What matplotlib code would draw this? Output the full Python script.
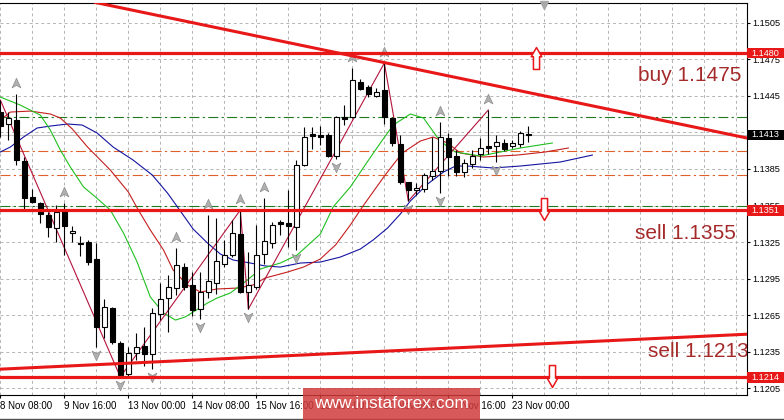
import matplotlib
matplotlib.use("Agg")
import matplotlib.pyplot as plt
from matplotlib.path import Path
from matplotlib.patches import Rectangle
from matplotlib.lines import Line2D
from matplotlib.transforms import offset_copy, blended_transform_factory
from matplotlib.ticker import FixedLocator, MultipleLocator

plt.rcParams['font.family'] = ['Liberation Sans', 'DejaVu Sans']

# EURUSD H4 candles, 8 Nov 08:00 .. 23 Nov 00:00
opens = [1.14318, 1.14218, 1.14251, 1.13915, 1.13620, 1.13571, 1.13472, 1.13365, 1.13513, 1.13324,
         1.13242, 1.13251, 1.13111, 1.12553, 1.12709, 1.12421, 1.12167, 1.12339, 1.12397, 1.12331,
         1.12659, 1.12791, 1.12873, 1.13046, 1.12898, 1.12700, 1.12840, 1.12914, 1.13070, 1.13144,
         1.13316, 1.12840, 1.12882, 1.13152, 1.13242, 1.13415, 1.13406, 1.13374, 1.13882, 1.14136,
         1.14128, 1.14128, 1.13956, 1.14276, 1.14276, 1.14564, 1.14523, 1.14449, 1.14498, 1.14267,
         1.14054, 1.13743, 1.13677, 1.13685, 1.13792, 1.13833, 1.14104, 1.13956, 1.13825, 1.13890,
         1.13972, 1.14038, 1.14038, 1.14063, 1.14038, 1.14054, 1.14136]
highs = [1.14416, 1.14318, 1.14465, 1.13948, 1.13685, 1.13579, 1.13497, 1.13554, 1.13571, 1.13382,
         1.13300, 1.13267, 1.13242, 1.12783, 1.12717, 1.12438, 1.12389, 1.12503, 1.12553, 1.12709,
         1.12914, 1.12980, 1.13201, 1.13078, 1.13005, 1.13005, 1.13472, 1.13447, 1.13267, 1.13431,
         1.13513, 1.13169, 1.13390, 1.13611, 1.13415, 1.13431, 1.13677, 1.13923, 1.14194, 1.14194,
         1.14202, 1.14144, 1.14285, 1.14375, 1.14678, 1.14588, 1.14539, 1.14514, 1.14719, 1.14267,
         1.14128, 1.13743, 1.13734, 1.13816, 1.14112, 1.14235, 1.14144, 1.14005, 1.13931, 1.14005,
         1.14104, 1.14334, 1.14128, 1.14095, 1.14087, 1.14161, 1.14202]
lows = [1.14112, 1.14087, 1.13882, 1.13521, 1.13571, 1.13406, 1.13292, 1.13251, 1.13144, 1.13251,
        1.13136, 1.13062, 1.12389, 1.12462, 1.12413, 1.12143, 1.12143, 1.12282, 1.12233, 1.12208,
        1.12610, 1.12512, 1.12816, 1.12857, 1.12643, 1.12618, 1.12791, 1.12824, 1.13046, 1.13128,
        1.12832, 1.12700, 1.12865, 1.13070, 1.13201, 1.13308, 1.13210, 1.13185, 1.13874, 1.14013,
        1.14046, 1.13948, 1.13931, 1.14210, 1.14267, 1.14498, 1.14440, 1.14440, 1.14218, 1.14038,
        1.13726, 1.13587, 1.13636, 1.13661, 1.13759, 1.13653, 1.13792, 1.13792, 1.13784, 1.13858,
        1.13923, 1.13972, 1.13907, 1.13997, 1.14021, 1.14030, 1.14071]
closes = [1.14202, 1.14267, 1.13923, 1.13611, 1.13579, 1.13480, 1.13374, 1.13497, 1.13382, 1.13341,
          1.13234, 1.13087, 1.12553, 1.12717, 1.12430, 1.12159, 1.12339, 1.12389, 1.12331, 1.12667,
          1.12783, 1.12882, 1.13062, 1.12882, 1.12692, 1.12840, 1.12931, 1.13095, 1.13144, 1.13324,
          1.12840, 1.12898, 1.13144, 1.13259, 1.13390, 1.13398, 1.13382, 1.13882, 1.14112, 1.14120,
          1.14112, 1.13956, 1.14276, 1.14259, 1.14580, 1.14506, 1.14465, 1.14481, 1.14276, 1.14063,
          1.13743, 1.13677, 1.13694, 1.13800, 1.13833, 1.14112, 1.13948, 1.13825, 1.13898, 1.13956,
          1.14021, 1.14021, 1.14071, 1.14013, 1.14063, 1.14144, 1.14130]

date_idx = [0, 8, 16, 24, 32, 40, 48, 56, 64]
date_labels = ["8 Nov 08:00", "9 Nov 16:00", "13 Nov 00:00", "14 Nov 08:00", "15 Nov 16:00",
               "19 Nov 00:00", "20 Nov 08:00", "21 Nov 16:00", "23 Nov 00:00"]
price_ticks = [1.1205, 1.1235, 1.1265, 1.1295, 1.1325, 1.1355, 1.1385, 1.1415, 1.1445, 1.1475, 1.1505]

# Alligator (shifted lines run past the last bar)
jaw_x = [0, 1.25, 2.9, 4.6, 6.25, 8.4, 10.25, 12.1, 14.1, 16.6, 19, 20.9, 22.5, 24.1, 25.9, 27.5,
         29.1, 31.25, 33.1, 35, 37.5, 40, 42.5, 45, 46.6, 48.4, 50, 51.25, 53.4, 55.4, 56.9, 58.4,
         61.6, 65, 70, 74]
jaw_y = [1.13989, 1.14030, 1.14112, 1.14186, 1.14202, 1.14219, 1.14210, 1.14145, 1.14030, 1.13923,
         1.13800, 1.13652, 1.13505, 1.13357, 1.13242, 1.13152, 1.13103, 1.13078, 1.13054, 1.13045,
         1.13078, 1.13086, 1.13127, 1.13193, 1.13267, 1.13365, 1.13480, 1.13587, 1.13726, 1.13825,
         1.13874, 1.13874, 1.13858, 1.13874, 1.13907, 1.13964]
teeth_x = [0, 1.25, 3.75, 6.25, 7.5, 9, 10.9, 13.75, 16, 17.25, 18.75, 20.4, 21.6, 23.4, 25, 27.1,
           29.75, 31.6, 33.1, 35.9, 37.9, 40, 41.9, 43.75, 45.25, 48.1, 50.25, 52.5, 54.1, 55.9,
           57.5, 60.4, 64.6, 68.1, 71]
teeth_y = [1.14251, 1.14317, 1.14325, 1.14301, 1.14268, 1.14178, 1.14030, 1.13841, 1.13661, 1.13513,
           1.13349, 1.13185, 1.13021, 1.12898, 1.12840, 1.12865, 1.12873, 1.12898, 1.12955, 1.13004,
           1.13045, 1.13111, 1.13226, 1.13390, 1.13538, 1.13800, 1.13981, 1.14079, 1.14112, 1.14063,
           1.13981, 1.13948, 1.13964, 1.13989, 1.14022]
lips_x = [0, 2.5, 5, 6.25, 7.5, 8.75, 10.4, 11.9, 13.75, 15.4, 17.1, 18.75, 20.4, 21.9, 23.1, 24.1,
          25.9, 27.1, 28.75, 30.9, 32.5, 35, 37.1, 40, 41.6, 43.75, 45.6, 47.5, 49.1, 51.25, 52.9,
          54.6, 55.9, 56.9, 60, 62.5, 65, 69]
lips_y = [1.14440, 1.14374, 1.14292, 1.14169, 1.14005, 1.13866, 1.13702, 1.13620, 1.13513, 1.13324,
          1.13086, 1.12799, 1.12668, 1.12610, 1.12635, 1.12676, 1.12750, 1.12791, 1.12832, 1.12939,
          1.13029, 1.13078, 1.13144, 1.13316, 1.13538, 1.13702, 1.13882, 1.14063, 1.14210, 1.14301,
          1.14268, 1.14112, 1.14030, 1.13989, 1.13956, 1.13989, 1.14022, 1.14063]

zigzag_idx = [0, 15, 30, 31, 48, 51, 61]
zigzag_kind = ['H', 'L', 'H', 'L', 'H', 'L', 'H']
fractal_up = [2, 8, 22, 26, 30, 33, 44, 48, 55, 61]
fractal_dn = [12, 15, 19, 25, 31, 37, 42, 51, 55, 62]

levels = [1.1480, 1.1351, 1.1214]
green_dash = [1.1428, 1.1355]
orange_dash = [1.1400, 1.1380]
bid = 1.1413
trend_down = ([48, 93.4], [1.14723, 1.14103])
trend_up = ([0, 93.4], [1.12207, 1.12494])

RED = '#e81818'
TXT = '#a52a2a'

fig = plt.figure(figsize=(7.84, 4.2), dpi=100)
ax = fig.add_axes([0, 25 / 420, 746.5 / 784, 392.5 / 420])
ax.set_xlim(-0.04, 93.27)
ax.set_ylim(1.11995, 1.15216)

# grid
ax.xaxis.set_major_locator(FixedLocator(date_idx))
ax.xaxis.set_minor_locator(MultipleLocator(4))
ax.set_xticklabels(date_labels)
for t in ax.get_xticklabels():
    t.set_ha('left')
ax.yaxis.set_major_locator(FixedLocator(price_ticks))
ax.set_yticklabels(['%.4f' % p for p in price_ticks])
ax.grid(True, which='both', axis='x', color='#b4b4b4', lw=0.7, ls=(0, (3, 3)))
ax.grid(True, which='major', axis='y', color='#b4b4b4', lw=0.7, ls=(0, (3, 3)))
ax.set_axisbelow(True)

ax.yaxis.tick_right()
ax.tick_params(axis='y', length=2.5, width=0.8, pad=2, labelsize=6.6, colors='black')
ax.tick_params(axis='x', which='major', length=2.5, width=0.8, pad=2, labelsize=7)
ax.tick_params(axis='x', which='minor', length=0)
ax.spines['left'].set_visible(False)
for s in ['top', 'right', 'bottom']:
    ax.spines[s].set_linewidth(0.8)

# horizontal helper lines
ax.axhline(bid, color='#c4c4c4', lw=0.8, zorder=2)
for p in green_dash:
    ax.axhline(p, color='#1f7a1f', lw=0.8, ls=(0, (9, 3, 2, 3)), zorder=2.2)
for p in orange_dash:
    ax.axhline(p, color='#e0602a', lw=0.8, ls=(0, (9, 3, 2, 3)), zorder=2.2)

# alligator + zigzag
ax.plot(jaw_x, jaw_y, color='#1414a0', lw=0.8, zorder=3)
ax.plot(teeth_x, teeth_y, color='#c41e1e', lw=0.8, zorder=3)
ax.plot(lips_x, lips_y, color='#20c020', lw=0.8, zorder=3)
zz_y = [highs[i] if k == 'H' else lows[i] for i, k in zip(zigzag_idx, zigzag_kind)]
ax.plot(zigzag_idx, zz_y, color='#b4143c', lw=0.8, zorder=3.2)

# candles
idx = list(range(len(opens)))
ax.vlines(idx, lows, highs, color='black', lw=0.8, zorder=4)
bottoms = [min(o, c) for o, c in zip(opens, closes)]
heights = [max(abs(c - o), 0.000005) for o, c in zip(opens, closes)]
faces = ['white' if c >= o else 'black' for o, c in zip(opens, closes)]
ax.bar(idx, heights, bottom=bottoms, width=0.625, color=faces, edgecolor='black',
       linewidth=0.8, zorder=5)

# fractals
arrow_head = Path([(0, 0.5), (0.42, -0.42), (0, -0.18), (-0.42, -0.42), (0, 0.5)],
                  [Path.MOVETO, Path.LINETO, Path.LINETO, Path.LINETO, Path.CLOSEPOLY])
arrow_head_dn = Path([(x, -y) for x, y in arrow_head.vertices], arrow_head.codes)
up_tr = offset_copy(ax.transData, fig=fig, y=11, units='dots')
dn_tr = offset_copy(ax.transData, fig=fig, y=-8, units='dots')
ax.plot(fractal_up, [highs[i] for i in fractal_up], ls='none', marker=arrow_head, ms=7.5,
        mfc='#b0b0b0', mec='#8c8c8c', mew=0.5, transform=up_tr, zorder=4.5)
ax.plot(fractal_dn, [lows[i] for i in fractal_dn], ls='none', marker=arrow_head_dn, ms=7.5,
        mfc='#b0b0b0', mec='#8c8c8c', mew=0.5, transform=dn_tr, zorder=4.5)

# chart shift marker
ax.plot([68], [1.15195], marker='v', ms=5.5, color='#a8a8a8', clip_on=False, zorder=7)

# support / resistance
for p in levels:
    ax.axhline(p, color=RED, lw=2.3, zorder=6)
ax.axline((trend_down[0][0], trend_down[1][0]), (trend_down[0][1], trend_down[1][1]),
          color=RED, lw=2.2, zorder=6)
ax.axline((trend_up[0][0], trend_up[1][0]), (trend_up[0][1], trend_up[1][1]),
          color=RED, lw=2.2, zorder=6)

# signal arrows
up_arrow = Path([(-0.14, -0.5), (0.14, -0.5), (0.14, 0.08), (0.24, 0.08), (0, 0.5),
                 (-0.24, 0.08), (-0.14, 0.08), (-0.14, -0.5)],
                [Path.MOVETO] + [Path.LINETO] * 6 + [Path.CLOSEPOLY])
dn_arrow = Path([(x, -y) for x, y in up_arrow.vertices], up_arrow.codes)
ax.plot([67], [1.14764], marker=up_arrow, ms=15.8, mfc='white', mec=RED, mew=1.1, zorder=7)
ax.plot([68], [1.13521], marker=dn_arrow, ms=15.8, mfc='white', mec=RED, mew=1.1, zorder=7)
ax.plot([69], [1.12147], marker=dn_arrow, ms=15.8, mfc='white', mec=RED, mew=1.1, zorder=7)

ax.text(92.6, 1.14571, 'buy 1.1475', ha='right', va='baseline', fontsize=15, color=TXT, zorder=8)
ax.text(91.96, 1.13273, 'sell 1.1355', ha='right', va='baseline', fontsize=15, color=TXT, zorder=8)
ax.text(80.96, 1.12304, 'sell 1.1213', ha='left', va='baseline', fontsize=15, color=TXT,
        zorder=8, clip_on=True)

# price labels on the right scale
btr = blended_transform_factory(ax.transAxes, ax.transData)
box_w = 784 / 746.5 - 1.0
for p, col in [(1.1480, RED), (1.1413, 'black'), (1.1351, RED), (1.1214, RED)]:
    ax.add_patch(Rectangle((1.0, p - 0.00043), box_w, 0.00086, transform=btr, fc=col,
                           ec='none', clip_on=False, zorder=10))
    ax.text(1.0 + box_w / 2, p, '%.4f' % p, transform=btr, ha='center', va='center',
            fontsize=6.6, color='white', clip_on=False, zorder=11)

# watermark
fig.patches.append(Rectangle((303 / 784, 0), 177 / 784, 32 / 420, transform=fig.transFigure,
                             fc='#d23c3c', ec='none', alpha=0.85, zorder=10))
fig.text(391.5 / 784, 16 / 420, 'www.instaforex.com', ha='center', va='center', fontsize=12.5,
         color='white', zorder=11)
fig.lines.append(Line2D([0, 1], [1.5 / 420, 1.5 / 420], transform=fig.transFigure,
                        color='#505050', lw=1))

fig.savefig('out.png', dpi=100)
